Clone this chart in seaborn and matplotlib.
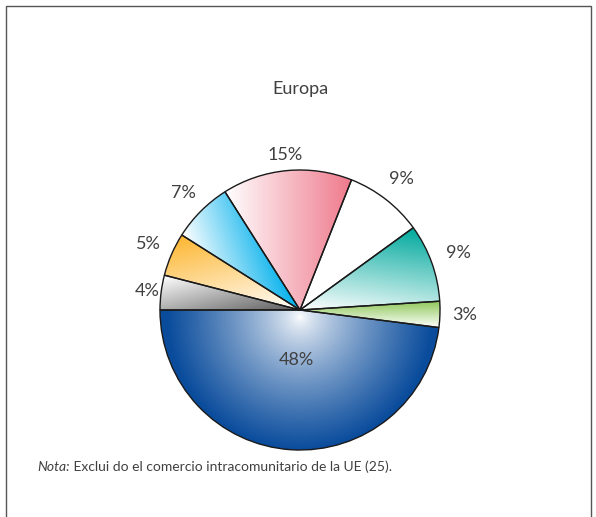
import numpy as np
import matplotlib
matplotlib.use("Agg")
import matplotlib.pyplot as plt
from matplotlib.colors import LinearSegmentedColormap
from matplotlib.patches import Rectangle
import seaborn as sns

sns.set_style("white")
plt.rcParams['font.family'] = ['Lato', 'DejaVu Sans']

# ---- data ----
title = "Europa"
shares = [48, 3, 9, 9, 15, 7, 5, 4]
labels = ["48%", "3%", "9%", "9%", "15%", "7%", "5%", "4%"]
dark_colors = ["#0a4c9c", "#8fc85a", "#00a99d", "#ffffff", "#ef7a8c", "#00b0ec", "#fdb732", "#5c5c5c"]
note_italic = "Nota:"
note_text = " Exclui do el comercio intracomunitario de la UE (25)."

# gradient directions (light -> dark); None = radial
grad_dirs = [None, (0.0, 1.0), (0.15, 1.0), (0.0, 1.0), (1.0, 0.0), (1.0, 0.35), (-0.25, 1.0), (0.25, -1.0)]
label_r = [0.36, 1.18, 1.2, 1.18, 1.11, 1.18, 1.18, 1.1]

W, H = 596, 517
fig = plt.figure(figsize=(W / 100, H / 100), dpi=100)

cx, cy, R = 300, 310, 140
ax = fig.add_axes([(cx - R) / W, 1 - (cy + R) / H, 2 * R / W, 2 * R / H])

txt_col = "#404040"
wedges, texts = ax.pie(shares, labels=labels, startangle=180, counterclock=True,
                       labeldistance=1.18, radius=1.0,
                       wedgeprops=dict(edgecolor="#1a1a1a", linewidth=1.0, facecolor="none"),
                       textprops=dict(fontsize=13, color=txt_col))
ax.set_xlim(-1, 1)
ax.set_ylim(-1, 1)
ax.axis("off")

# gradient fills clipped to the wedges
n = 400
xs = np.linspace(-1, 1, n)
X, Y = np.meshgrid(xs, xs)
for w, col, d in zip(wedges, dark_colors, grad_dirs):
    cmap = LinearSegmentedColormap.from_list("g", ["#ffffff", col])
    if d is None:
        D = np.hypot(X - 0.0, Y + 0.05)
        T = np.clip(D / 0.95, 0, 1) ** 0.75
    else:
        dv = np.array(d) / np.hypot(*d)
        verts = w.get_path().vertices
        p = verts @ dv
        P = X * dv[0] + Y * dv[1]
        T = np.clip((P - p.min()) / (p.max() - p.min()), 0, 1)
    im = ax.imshow(T, cmap=cmap, vmin=0, vmax=1, extent=(-1, 1, -1, 1),
                   origin="lower", interpolation="bilinear", zorder=0.5)
    im.set_clip_path(w)
    w.set_zorder(1)

# label placement
for t, w, r in zip(texts, wedges, label_r):
    mid = np.deg2rad((w.theta1 + w.theta2) / 2)
    t.set_position((r * np.cos(mid), r * np.sin(mid)))
    t.set_ha("center")
    t.set_va("center")
    t.set_zorder(3)

# title and note
fig.text(cx / W, 1 - 89 / H, title, ha="center", va="center", fontsize=13, color=txt_col)
nt = fig.text(37 / W, 1 - 467 / H, note_italic, ha="left", va="center", fontsize=10,
              style="italic", color=txt_col)
fig.canvas.draw()
bb = nt.get_window_extent()
fig.text(bb.x1 / W, 1 - 467 / H, note_text, ha="left", va="center", fontsize=10, color=txt_col)

# frame
fig.patches.append(Rectangle((5.5 / W, -0.05), (591 - 5.5) / W, 1.05 - 5.5 / H,
                             transform=fig.transFigure, fill=False, edgecolor="#555555",
                             linewidth=1.0))

fig.savefig("out.png", dpi=100)
